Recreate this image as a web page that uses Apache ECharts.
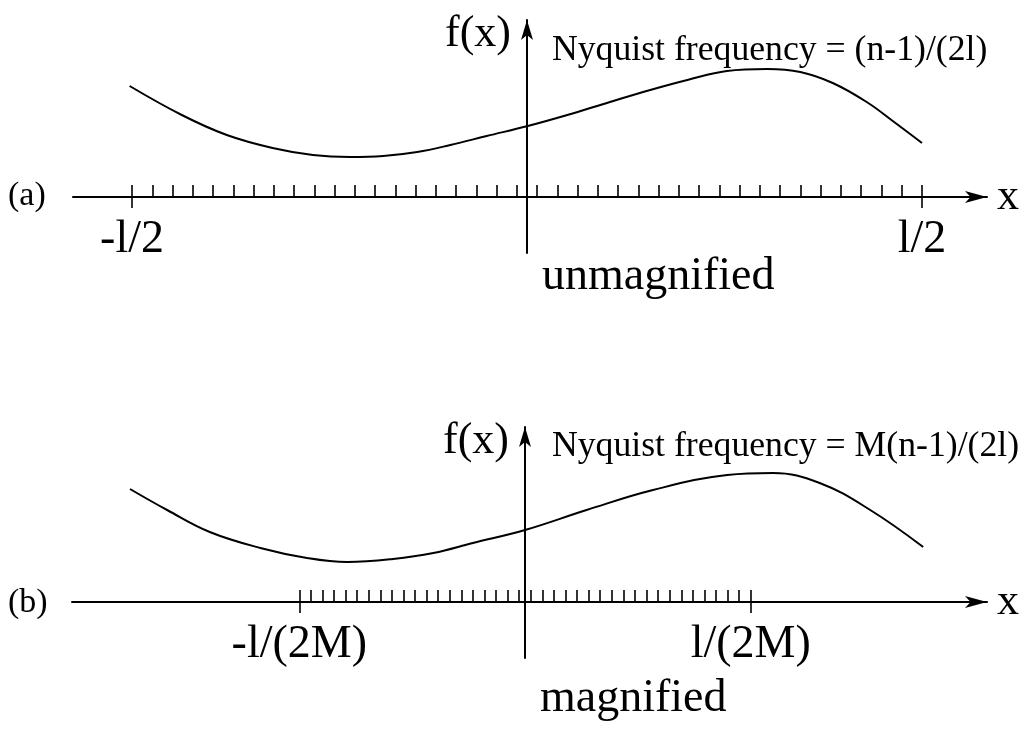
<!DOCTYPE html>
<html>
<head>
<meta charset="utf-8">
<script src="https://cdn.jsdelivr.net/npm/echarts@6/dist/echarts.min.js"></script>
<style>
  html, body { margin: 0; padding: 0; background: #fff; }
  #chart { width: 1028px; height: 729px; }
</style>
</head>
<body>
<div id="chart"></div>
<script>
// ---- data ----
// panel (a): unmagnified, x in units of l (-1/2 .. 1/2)
const curveAX = [-0.503, -0.437, -0.380, -0.322, -0.271, -0.224, -0.182, -0.139, -0.097, -0.051, 0.001, 0.051, 0.105, 0.156, 0.203, 0.253, 0.304, 0.346, 0.387, 0.430, 0.463, 0.500];
const curveAY = [1.11, 0.82, 0.62, 0.49, 0.42, 0.40, 0.41, 0.45, 0.52, 0.61, 0.71, 0.82, 0.95, 1.07, 1.17, 1.26, 1.28, 1.25, 1.14, 0.95, 0.76, 0.54];
// panel (b): magnified
const curveBX = [-0.500, -0.453, -0.399, -0.335, -0.276, -0.225, -0.167, -0.116, -0.066, 0.000, 0.078, 0.162, 0.256, 0.314, 0.373, 0.437, 0.504];
const curveBY = [1.13, 0.92, 0.70, 0.54, 0.44, 0.40, 0.43, 0.49, 0.59, 0.72, 0.92, 1.12, 1.27, 1.29, 1.19, 0.92, 0.55];

const nSamples = 40;          // sample points shown as ticks
const magnification = 1.75;   // M
const tickLabelsA = ['-l/2', 'l/2'];
const tickLabelsB = ['-l/(2M)', 'l/(2M)'];
const panelLabels = ['(a)', '(b)'];
const nyquistTexts = ['Nyquist frequency = (n-1)/(2l)', 'Nyquist frequency = M(n-1)/(2l)'];
const captions = ['unmagnified', 'magnified'];
const xName = 'x';
const yName = 'f(x)';

// ---- build ----
function sampleTicks(half) {
  const arr = [];
  for (let i = 0; i < nSamples; i++) arr.push(-half + i * (2 * half / (nSamples - 1)));
  return arr;
}
const halfA = 0.5, halfB = 0.5 / magnification;
const ticksA = sampleTicks(halfA), ticksB = sampleTicks(halfB);

const FONT = "'Liberation Serif', 'Times New Roman', serif";
const BLACK = '#000';

function zipPts(xs, ys) { return xs.map((x, i) => [x, ys[i]]); }

function mainX(grid, yIdx, min, max, ticks) {
  return {
    type: 'value', gridIndex: grid, min: min, max: max, position: 'bottom',
    axisLine: { show: true, onZero: true, onZeroAxisIndex: yIdx, symbol: ['none', 'arrow'], symbolSize: [9, 22],
      lineStyle: { color: BLACK, width: 2 } },
    axisTick: { show: true, inside: true, length: 12, customValues: ticks, lineStyle: { color: BLACK, width: 1.6 } },
    axisLabel: { show: false },
    splitLine: { show: false },
    name: xName, nameLocation: 'end', nameGap: 10,
    nameTextStyle: { fontFamily: FONT, fontSize: 44, color: BLACK, verticalAlign: 'middle' }
  };
}
// an axis in a thin helper grid whose bottom edge sits on the x-axis line: end ticks + labels
function endX(grid, min, max, half, labels) {
  return {
    type: 'value', gridIndex: grid, min: min, max: max, position: 'bottom',
    axisLine: { show: false, onZero: false },
    axisTick: { show: true, inside: false, length: 11, customValues: [-half, half], lineStyle: { color: BLACK, width: 1.6 } },
    axisLabel: { show: true, customValues: [-half, half], margin: 20,
      fontFamily: FONT, fontSize: 46, color: BLACK,
      formatter: v => (v < 0 ? labels[0] : labels[1]) },
    splitLine: { show: false }
  };
}
function yAx(grid, min, max, xIdx) {
  return {
    type: 'value', gridIndex: grid, min: min, max: max,
    axisLine: { show: true, onZero: true, onZeroAxisIndex: xIdx, symbol: ['none', 'arrow'], symbolSize: [9, 20],
      lineStyle: { color: BLACK, width: 2 } },
    axisTick: { show: false }, axisLabel: { show: false }, splitLine: { show: false },
    name: yName, nameLocation: 'end', nameGap: -14,
    nameTextStyle: { fontFamily: FONT, fontSize: 44, color: BLACK, align: 'right', verticalAlign: 'middle', padding: [0, 16, 0, 0] }
  };
}
function hiddenY(grid) {
  return { type: 'value', gridIndex: grid, min: 0, max: 1, show: false,
    axisLine: { show: false }, axisTick: { show: false }, axisLabel: { show: false }, splitLine: { show: false } };
}

function txt(x, y, s, size) {
  return { type: 'text', x: x, y: y, silent: true,
    style: { text: s, fontFamily: FONT, fontSize: size, fill: BLACK, verticalAlign: 'middle', align: 'left' } };
}

const option = {
  backgroundColor: '#fff',
  animation: false,
  grid: [
    { left: 73, right: 41, top: 20, height: 233 },   // (a) plot
    { left: 72, right: 41, top: 427, height: 231 },  // (b) plot
    { left: 73, right: 41, top: 187, height: 10 },   // (a) end labels, bottom on axis line
    { left: 72, right: 41, top: 592, height: 10 }    // (b) end labels, bottom on axis line
  ],
  xAxis: [
    mainX(0, 0, -0.5747, 0.5823, ticksA),
    mainX(1, 1, -0.5734, 0.5848, ticksB),
    endX(2, -0.5747, 0.5823, halfA, tickLabelsA),
    endX(3, -0.5734, 0.5848, halfB, tickLabelsB)
  ],
  yAxis: [
    yAx(0, -0.56, 1.77, 0),
    yAx(1, -0.56, 1.75, 1),
    hiddenY(2),
    hiddenY(3)
  ],
  series: [
    { type: 'line', xAxisIndex: 0, yAxisIndex: 0, data: zipPts(curveAX, curveAY), smooth: 0.4,
      showSymbol: false, lineStyle: { color: BLACK, width: 2 }, silent: true },
    { type: 'line', xAxisIndex: 1, yAxisIndex: 1, data: zipPts(curveBX, curveBY), smooth: 0.4,
      showSymbol: false, lineStyle: { color: BLACK, width: 2 }, silent: true }
  ],
  graphic: [
    txt(8, 196, panelLabels[0], 34),
    txt(8, 603, panelLabels[1], 34),
    txt(552, 51, nyquistTexts[0], 35.7),
    txt(552, 447, nyquistTexts[1], 35.7),
    txt(542, 277, captions[0], 46),
    txt(540, 699, captions[1], 46)
  ]
};

const chart = echarts.init(document.getElementById('chart'), null, { renderer: 'canvas' });
chart.setOption(option);
</script>
</body>
</html>
